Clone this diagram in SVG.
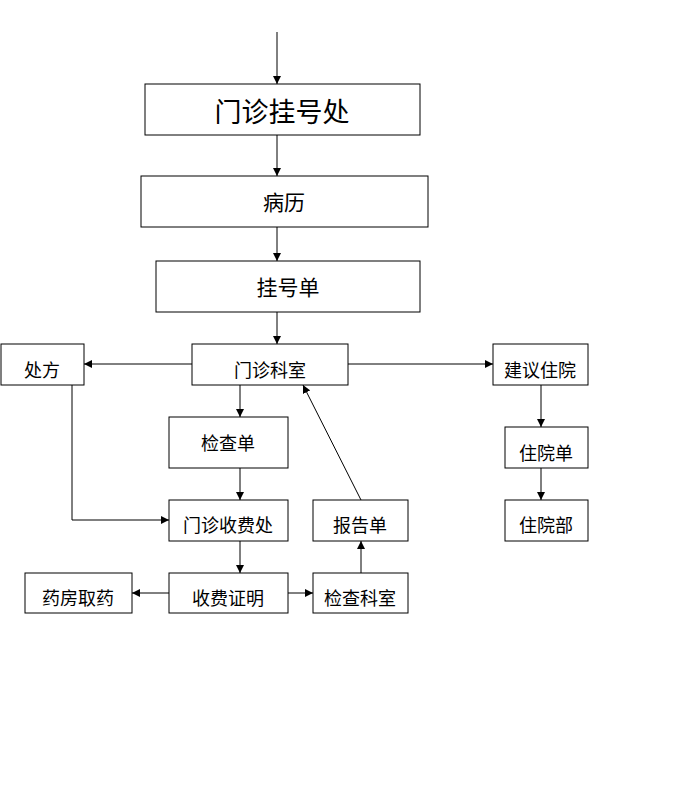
<svg xmlns="http://www.w3.org/2000/svg" width="697" height="812" viewBox="0 0 697 812">
<style>
rect{fill:#fff;stroke:#000;stroke-width:1}
text{font-family:"Noto Sans CJK SC","Noto Sans",sans-serif;text-anchor:middle;dominant-baseline:central;fill:#000}
.c line,.c polyline{stroke:#000;stroke-width:1;fill:none;marker-end:url(#a)}
</style>
<defs><marker id="a" viewBox="0 0 10 10" refX="10" refY="5" markerWidth="8" markerHeight="8" markerUnits="userSpaceOnUse" orient="auto"><path d="M0,0L10,5L0,10z" fill="#000"/></marker></defs>
<rect width="697" height="812" style="stroke:none"/>
<g id="n1"><rect x="145" y="84" width="275" height="51"/><text x="282" y="110" font-size="27">门诊挂号处</text></g>
<g id="n2"><rect x="141" y="176" width="287" height="51"/><text x="284" y="201" font-size="21">病历</text></g>
<g id="n3"><rect x="156" y="261" width="264" height="51"/><text x="288" y="286" font-size="21">挂号单</text></g>
<g id="n4"><rect x="192" y="344" width="156" height="41"/><text x="270" y="369" font-size="18">门诊科室</text></g>
<g id="n5"><rect x="1" y="344" width="83" height="41"/><text x="42" y="369" font-size="18">处方</text></g>
<g id="n6"><rect x="493" y="344" width="95" height="41"/><text x="540" y="369" font-size="18">建议住院</text></g>
<g id="n7"><rect x="169" y="417" width="119" height="51"/><text x="228" y="442" font-size="18">检查单</text></g>
<g id="n8"><rect x="505" y="427" width="83" height="41"/><text x="546" y="452" font-size="18">住院单</text></g>
<g id="n9"><rect x="169" y="500" width="119" height="41"/><text x="228" y="524" font-size="18">门诊收费处</text></g>
<g id="n10"><rect x="313" y="500" width="95" height="41"/><text x="360" y="524" font-size="18">报告单</text></g>
<g id="n11"><rect x="505" y="500" width="83" height="41"/><text x="546" y="524" font-size="18">住院部</text></g>
<g id="n12"><rect x="25" y="573" width="107" height="40"/><text x="78" y="597" font-size="18">药房取药</text></g>
<g id="n13"><rect x="169" y="573" width="119" height="40"/><text x="228" y="597" font-size="18">收费证明</text></g>
<g id="n14"><rect x="313" y="573" width="95" height="40"/><text x="360" y="597" font-size="18">检查科室</text></g>
<g class="c">
<line x1="277" y1="32" x2="277" y2="84"/>
<line x1="277" y1="135" x2="277" y2="176"/>
<line x1="277" y1="227" x2="277" y2="261"/>
<line x1="277" y1="312" x2="277" y2="344"/>
<line x1="192" y1="364" x2="84" y2="364"/>
<line x1="348" y1="364" x2="493" y2="364"/>
<line x1="240" y1="385" x2="240" y2="417"/>
<line x1="541" y1="385" x2="541" y2="427"/>
<line x1="541" y1="468" x2="541" y2="500"/>
<polyline points="72,385 72,520 169,520"/>
<line x1="240" y1="468" x2="240" y2="500"/>
<line x1="240" y1="541" x2="240" y2="573"/>
<line x1="169" y1="593" x2="132" y2="593"/>
<line x1="288" y1="593" x2="313" y2="593"/>
<line x1="361" y1="573" x2="361" y2="541"/>
<line x1="361" y1="500" x2="303" y2="385"/>
</g>
</svg>
